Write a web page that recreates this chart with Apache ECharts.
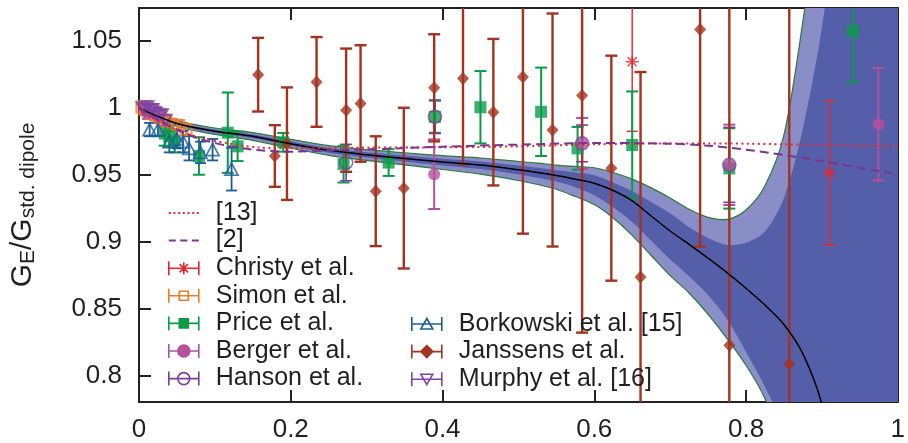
<!DOCTYPE html>
<html>
<head>
<meta charset="utf-8">
<script src="https://cdn.jsdelivr.net/npm/echarts@6/dist/echarts.min.js"></script>
<style>
  html, body { margin: 0; padding: 0; background: #fff; }
  #main { width: 908px; height: 443px; }
</style>
</head>
<body>
<div id="main"></div>
<script>
var yTicks = [0.8, 0.85, 0.9, 0.95, 1, 1.05];

// fit with uncertainty bands
var bandX   = [0, 0.05, 0.1, 0.15, 0.2, 0.25, 0.3, 0.35, 0.4, 0.45, 0.5, 0.525, 0.55, 0.575, 0.6, 0.625, 0.65, 0.675, 0.7, 0.725, 0.75, 0.775, 0.8, 0.825, 0.85, 0.875, 0.9, 0.925, 0.95, 1.0, 1.05];
var fitMid  = [1.000, 0.9885, 0.9828, 0.9790, 0.9735, 0.9685, 0.9652, 0.9625, 0.9598, 0.9575, 0.9540, 0.9520, 0.9497, 0.9470, 0.9440, 0.9385, 0.9308, 0.9195, 0.9083, 0.8983, 0.8880, 0.8772, 0.8655, 0.8530, 0.8385, 0.8165, 0.7790, 0.7100, 0.62, 0.45, 0.30];
var outerUp = [1.000, 0.9905, 0.9852, 0.9818, 0.9767, 0.9720, 0.9690, 0.9667, 0.9645, 0.9628, 0.9602, 0.9590, 0.9575, 0.9565, 0.9555, 0.9520, 0.9470, 0.9405, 0.9330, 0.9245, 0.9185, 0.9170, 0.9240, 0.9420, 0.9800, 1.065, 1.17, 1.30, 1.45, 1.75, 2.00];
var innerUp = [1.000, 0.9895, 0.9840, 0.9804, 0.9751, 0.9703, 0.9671, 0.9646, 0.9622, 0.9602, 0.9572, 0.9555, 0.9537, 0.9520, 0.9500, 0.9445, 0.9380, 0.9300, 0.9215, 0.9110, 0.9030, 0.8978, 0.8995, 0.9080, 0.9330, 0.9850, 1.060, 1.17, 1.28, 1.55, 1.80];
var innerLo = [1.000, 0.9875, 0.9816, 0.9776, 0.9719, 0.9667, 0.9632, 0.9602, 0.9572, 0.9545, 0.9505, 0.9480, 0.9452, 0.9410, 0.9350, 0.9260, 0.9150, 0.9010, 0.8870, 0.8745, 0.8605, 0.8425, 0.8180, 0.7920, 0.7600, 0.7100, 0.6400, 0.55, 0.45, 0.25, 0.10];
var outerLo = [1.000, 0.9865, 0.9804, 0.9760, 0.9701, 0.9648, 0.9610, 0.9577, 0.9542, 0.9508, 0.9460, 0.9430, 0.9395, 0.9340, 0.9280, 0.9180, 0.9050, 0.8900, 0.8750, 0.8620, 0.8460, 0.8280, 0.8080, 0.7830, 0.7400, 0.6800, 0.6000, 0.50, 0.40, 0.20, 0.00];

// model curves
var modelX = [0, 0.02, 0.05, 0.08, 0.12, 0.16, 0.2, 0.25, 0.3, 0.4, 0.5, 0.6, 0.7, 0.75, 0.8, 0.85, 0.9, 0.95, 1.0];
var ref13  = [1.0, 0.992, 0.984, 0.978, 0.9735, 0.9705, 0.9700, 0.9703, 0.9706, 0.9708, 0.9715, 0.9730, 0.9737, 0.9737, 0.9735, 0.9730, 0.9725, 0.9720, 0.9715];
var ref2   = [1.0, 0.993, 0.984, 0.977, 0.9715, 0.9685, 0.9675, 0.9685, 0.9692, 0.9712, 0.9728, 0.9740, 0.9735, 0.9720, 0.9690, 0.9650, 0.9605, 0.9555, 0.9505];

// data points: [Q2, ratio, error]
var christy = [[0.650, 1.0347, 0.052], [0.910, 0.9518, 0.054]];
var simon = [[0.004, 1.001, 0.004], [0.008, 0.999, 0.004], [0.012, 0.998, 0.004], [0.017, 0.996, 0.004], [0.022, 0.995, 0.004],
             [0.028, 0.993, 0.004], [0.035, 0.990, 0.004], [0.043, 0.988, 0.004], [0.052, 0.987, 0.004], [0.062, 0.984, 0.004]];
var price = [[0.034, 0.981, 0.009], [0.040, 0.979, 0.008], [0.047, 0.975, 0.008], [0.079, 0.9643, 0.014], [0.117, 0.9817, 0.030],
             [0.130, 0.9715, 0.011], [0.190, 0.9745, 0.007], [0.2696, 0.9582, 0.0137], [0.329, 0.9594, 0.010], [0.390, 0.9936, 0.012],
             [0.450, 1.0007, 0.027], [0.530, 0.9973, 0.033], [0.578, 0.9700, 0.016], [0.650, 0.9725, 0.040], [0.778, 0.9550, 0.030],
             [0.941, 1.0576, 0.038]];
var berger = [[0.012, 0.996, 0.004], [0.022, 0.997, 0.004], [0.389, 0.9507, 0.026], [0.584, 0.9737, 0.019], [0.778, 0.9577, 0.030],
              [0.9745, 0.988, 0.042]];
var hanson = [[0.273, 0.9594, 0.0136], [0.390, 0.9936, 0.0125], [0.584, 0.9737, 0.0137], [0.778, 0.9577, 0.028]];
var borkowski = [[0.014, 0.984, 0.005], [0.025, 0.984, 0.005], [0.040, 0.975, 0.008], [0.050, 0.977, 0.007], [0.058, 0.975, 0.008],
                 [0.066, 0.970, 0.009], [0.081, 0.967, 0.008], [0.097, 0.969, 0.008], [0.122, 0.9545, 0.016]];
var janssens = [[0.157, 1.025, 0.0275], [0.179, 0.9643, 0.023], [0.195, 0.9735, 0.042], [0.234, 1.0196, 0.0335], [0.273, 0.9985, 0.046],
                [0.292, 1.0035, 0.0435], [0.312, 0.938, 0.041], [0.349, 0.9403, 0.060], [0.389, 1.0152, 0.040], [0.427, 1.0221, 0.064],
                [0.467, 0.997, 0.0547], [0.506, 1.0233, 0.117], [0.545, 0.9837, 0.087], [0.584, 1.0094, 0.177], [0.6225, 0.9552, 0.084],
                [0.661, 0.874, 0.153], [0.7395, 1.0587, 0.162], [0.778, 0.823, 0.30], [0.857, 0.809, 0.30]];
var murphy = [[0.005, 1.000, 0.004], [0.008, 0.999, 0.004], [0.011, 1.001, 0.004], [0.014, 0.998, 0.004], [0.018, 0.999, 0.004],
              [0.022, 0.996, 0.004], [0.026, 0.994, 0.004], [0.030, 0.995, 0.004], [0.035, 0.991, 0.004]];

var FONT = '"Liberation Sans", Arial, Helvetica, sans-serif';
var TXT = '#231f20';

var C = {
    r13: '#e8262c', r2: '#7e3390',
    christy: '#e8242c', simon: '#f07a2a', price: '#0a9b49', berger: '#b4509c',
    hanson: '#7c3e9c', borkowski: '#1b5c9a', janssens: '#a3331f', murphy: '#7d44a6'
};

var asterisk = 'path://M0,6.5H13M6.5,0V13M1.9,1.9L11.1,11.1M11.1,1.9L1.9,11.1';

// legend icons, 30 x 14
var H = 'M0,0V14M0,7H30M30,0V14';
var icons = {
    dotted: 'path://M0,6h2v2h-2zM4.7,6h2v2h-2zM9.4,6h2v2h-2zM14,6h2v2h-2zM18.7,6h2v2h-2zM23.4,6h2v2h-2zM28,6h2v2h-2z',
    dashed: 'path://M0,6h7v2h-7zM11.5,6h7v2h-7zM23,6h7v2h-7z',
    star: 'path://' + H + 'M9,7H21M15,1V13M10.8,2.8L19.2,11.2M19.2,2.8L10.8,11.2',
    square: 'path://' + H + 'M10.5,2.5h9v9h-9z',
    circle: 'path://' + H + 'M9,7a6,6 0 1,0 12,0a6,6 0 1,0 -12,0z',
    diamond: 'path://' + H + 'M15,1L21,7L15,13L9,7z',
    triUp: 'path://' + H + 'M15,1.5L21,12H9z',
    triDown: 'path://' + H + 'M15,12.5L21,2H9z'
};

function errorBars(cap, lw, color) {
    return function (params, api) {
        var x = api.value(0), y = api.value(1), e = api.value(2);
        var top = api.coord([x, y + e]);
        var bot = api.coord([x, y - e]);
        var st = { stroke: color, lineWidth: lw };
        return {
            type: 'group',
            children: [
                { type: 'line', shape: { x1: top[0], y1: top[1], x2: bot[0], y2: bot[1] }, style: st },
                { type: 'line', shape: { x1: top[0] - cap, y1: top[1], x2: top[0] + cap, y2: top[1] }, style: st },
                { type: 'line', shape: { x1: bot[0] - cap, y1: bot[1], x2: bot[0] + cap, y2: bot[1] }, style: st }
            ]
        };
    };
}

function dataSet(name, data, color, cap, lw, symbol, size, open, rotate) {
    return [{
        type: 'custom', name: name, data: data, clip: true,
        encode: { x: 0, y: 1 },
        renderItem: errorBars(cap, lw, color)
    }, {
        type: 'scatter', name: name, data: data, clip: true,
        symbol: symbol, symbolSize: size, symbolRotate: rotate || 0,
        itemStyle: open
            ? { color: 'rgba(255,255,255,0)', borderColor: color, borderWidth: open }
            : { color: color, borderWidth: 0 }
    }];
}

function band(params, api) {
    var outer = [], inner = [], i;
    for (i = 0; i < bandX.length; i++) outer.push(api.coord([bandX[i], outerUp[i]]));
    for (i = bandX.length - 1; i >= 0; i--) outer.push(api.coord([bandX[i], outerLo[i]]));
    for (i = 0; i < bandX.length; i++) inner.push(api.coord([bandX[i], innerUp[i]]));
    for (i = bandX.length - 1; i >= 0; i--) inner.push(api.coord([bandX[i], innerLo[i]]));
    return {
        type: 'group',
        children: [
            { type: 'polygon', shape: { points: outer, smooth: 0.3 }, style: { fill: '#8a8ec6', stroke: '#2a7a3c', lineWidth: 1.2 } },
            { type: 'polygon', shape: { points: inner, smooth: 0.3 }, style: { fill: '#545ea9' } }
        ]
    };
}

function pairs(xs, ys) {
    return xs.map(function (x, i) { return [x, ys[i]]; });
}

var series = [
    { type: 'custom', name: 'band', data: [[0.5, 0.95]], clip: true, renderItem: band, silent: true },
    { type: 'line', name: 'fit', data: pairs(bandX, fitMid), smooth: 0.3, symbol: 'none', clip: true,
      lineStyle: { color: '#000', width: 1.5 } },
    { type: 'line', name: '[13]', data: pairs(modelX, ref13), smooth: 0.3, symbol: 'none', clip: true,
      itemStyle: { color: C.r13 }, lineStyle: { color: C.r13, width: 2, type: [2, 3.5] } },
    { type: 'line', name: '[2]', data: pairs(modelX, ref2), smooth: 0.3, symbol: 'none', clip: true,
      itemStyle: { color: C.r2 }, lineStyle: { color: C.r2, width: 2, type: [9, 5] } }
];
series = series
    .concat(dataSet('Christy et al.', christy, C.christy, 5.5, 1.4, asterisk, 13, 1.5))
    .concat(dataSet('Simon et al.', simon, C.simon, 5, 2, 'rect', 11, 2.2))
    .concat(dataSet('Price et al.', price, C.price, 6, 2, 'rect', 12))
    .concat(dataSet('Berger et al.', berger, C.berger, 6, 2, 'circle', 12))
    .concat(dataSet('Hanson et al.', hanson, C.hanson, 6, 1.6, 'circle', 13, 1.6))
    .concat(dataSet('Borkowski et al. [15]', borkowski, C.borkowski, 5.5, 1.8, 'triangle', [13, 12], 1.7))
    .concat(dataSet('Janssens et al.', janssens, C.janssens, 6, 2.4, 'diamond', [12, 13]))
    .concat(dataSet('Murphy et al. [16]', murphy, C.murphy, 5, 2, 'triangle', [12, 11], 2.2, 180));

function legendItem(name, icon, color, open) {
    return {
        name: name, icon: icon,
        itemStyle: { color: open ? 'rgba(255,255,255,0)' : color, borderColor: color, borderWidth: icon.indexOf('M0,0V14') > 0 ? 1.6 : 0 }
    };
}

var legendText = { fontFamily: FONT, fontSize: 25, color: TXT, lineHeight: 26, padding: [0, 0, 0, 12] };

var yMin = 0.7806, yMax = 1.0748;

var axisLineStyle = { color: '#222', width: 2 };

var option = {
    animation: false,
    backgroundColor: '#fff',
    grid: { left: 136, right: 3, top: 8, bottom: 39 },
    legend: [{
        orient: 'vertical', left: 168, top: 200, padding: 0, itemGap: 1.6,
        itemWidth: 30, itemHeight: 14, selectedMode: false, textStyle: legendText,
        data: [
            legendItem('[13]', icons.dotted, C.r13),
            legendItem('[2]', icons.dashed, C.r2),
            legendItem('Christy et al.', icons.star, C.christy, true),
            legendItem('Simon et al.', icons.square, C.simon, true),
            legendItem('Price et al.', icons.square, C.price),
            legendItem('Berger et al.', icons.circle, C.berger),
            legendItem('Hanson et al.', icons.circle, C.hanson, true)
        ]
    }, {
        orient: 'vertical', left: 411, top: 311, padding: 0, itemGap: 1.6,
        itemWidth: 30, itemHeight: 14, selectedMode: false, textStyle: legendText,
        data: [
            legendItem('Borkowski et al. [15]', icons.triUp, C.borkowski, true),
            legendItem('Janssens et al.', icons.diamond, C.janssens),
            legendItem('Murphy et al. [16]', icons.triDown, C.murphy, true)
        ]
    }],
    xAxis: [{
        type: 'value', min: 0, max: 1, interval: 0.2, position: 'bottom',
        axisLine: { show: true, onZero: false, lineStyle: axisLineStyle },
        axisTick: { show: true, inside: true, length: 12, lineStyle: axisLineStyle },
        axisLabel: { fontFamily: FONT, fontSize: 26, color: TXT, margin: 15 },
        splitLine: { show: false }
    }, {
        type: 'value', min: 0, max: 1, interval: 0.2, position: 'top',
        axisLine: { show: true, onZero: false, lineStyle: axisLineStyle },
        axisTick: { show: true, inside: true, length: 12, lineStyle: axisLineStyle },
        axisLabel: { show: false },
        splitLine: { show: false }
    }],
    yAxis: [{
        type: 'value', min: yMin, max: yMax, position: 'left',
        axisLine: { show: true, onZero: false, lineStyle: axisLineStyle },
        axisTick: { show: true, inside: true, length: 12, lineStyle: axisLineStyle, customValues: yTicks },
        axisLabel: { fontFamily: FONT, fontSize: 26, color: TXT, margin: 17, customValues: yTicks },
        splitLine: { show: false },
        name: '{g|G}{s|E}{g|/G}{s|std. dipole}',
        nameLocation: 'middle', nameRotate: 90, nameGap: 100,
        nameTextStyle: {
            fontFamily: FONT, color: TXT,
            rich: {
                g: { fontFamily: FONT, fontSize: 30, color: TXT, lineHeight: 32 },
                s: { fontFamily: FONT, fontSize: 21, color: TXT, lineHeight: 12, verticalAlign: 'bottom' }
            }
        }
    }, {
        type: 'value', min: yMin, max: yMax, position: 'right',
        axisLine: { show: true, onZero: false, lineStyle: axisLineStyle },
        axisTick: { show: true, inside: true, length: 12, lineStyle: axisLineStyle, customValues: yTicks },
        axisLabel: { show: false },
        splitLine: { show: false }
    }],
    series: series
};

var chart = echarts.init(document.getElementById('main'));
chart.setOption(option);
</script>
</body>
</html>
